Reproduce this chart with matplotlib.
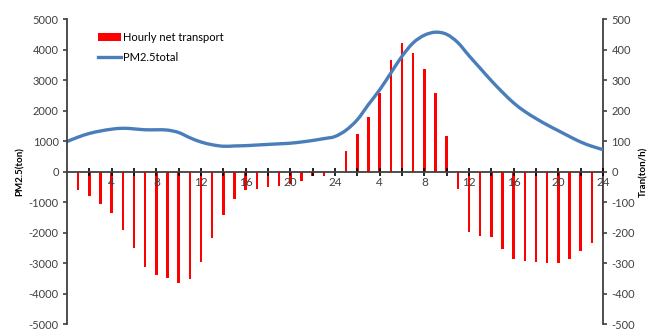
import numpy as np
import matplotlib.pyplot as plt
from matplotlib.ticker import FixedLocator
from matplotlib.path import Path
from matplotlib.patches import PathPatch
from matplotlib.lines import Line2D

# Часы (две сутки подряд)
hours_line = list(range(0, 49))
hours_bar = list(range(1, 49))

# PM2.5 total, ton (левая ось)
pm25_total = [985, 1130, 1250, 1330, 1390, 1420, 1400, 1370, 1370, 1360,
              1280, 1110, 970, 880, 830, 840, 850, 870, 890, 910,
              930, 970, 1020, 1080, 1150, 1360, 1700, 2200, 2680, 3230,
              3780, 4220, 4470, 4570, 4500, 4230, 3800, 3390, 2980, 2600,
              2250, 1970, 1740, 1530, 1340, 1150, 970, 830, 720]

# Hourly net transport, ton/h (правая ось)
net_transport = [-60, -80, -106, -137, -191, -252, -314, -340, -349, -366,
                 -353, -295, -217, -142, -91, -60, -58, -52, -47, -40,
                 -32, -16, -15, -3,
                 68, 124, 178, 257, 367, 423, 388, 336, 257, 118,
                 -58, -197, -211, -216, -255, -288, -292, -295, -301, -301,
                 -286, -259, -233, -211]

xtick_pos = list(range(4, 49, 4))
xtick_labels = ['4', '8', '12', '16', '20', '24', '4', '8', '12', '16', '20', '24']

plt.rcParams['font.family'] = ['Lato', 'DejaVu Sans']
plt.rcParams['axes.unicode_minus'] = False
axis_col = '#404040'
line_col = '#4A7EBB'


# Сглаженная линия как в Excel (кривые Безье через точки данных)
def smooth_path(x, y):
    x = np.asarray(x, float)
    y = np.asarray(y, float)
    n = len(x)
    verts = [(x[0], y[0])]
    codes = [Path.MOVETO]
    for i in range(n - 1):
        i0 = max(i - 1, 0)
        i3 = min(i + 2, n - 1)
        c1 = (x[i] + (x[i + 1] - x[i0]) / 6, y[i] + (y[i + 1] - y[i0]) / 6)
        c2 = (x[i + 1] - (x[i3] - x[i]) / 6, y[i + 1] - (y[i3] - y[i]) / 6)
        verts += [c1, c2, (x[i + 1], y[i + 1])]
        codes += [Path.CURVE4] * 3
    return Path(verts, codes)


fig = plt.figure(figsize=(6.53, 3.30), dpi=100)
ax1 = fig.add_axes([0.1026, 0.018, 0.8208, 0.9242])
ax2 = ax1.twinx()

# столбики на правой оси
bars = ax2.bar(hours_bar, net_transport, width=0.22, color='#FF0000')
ax2.set_ylim(-500, 500)
ax2.set_yticks(range(-500, 501, 100))

# линия на левой оси поверх столбиков
ax1.set_zorder(ax2.get_zorder() + 1)
ax1.patch.set_visible(False)
ax1.add_patch(PathPatch(smooth_path(hours_line, pm25_total), facecolor='none',
                        edgecolor=line_col, linewidth=2.4, capstyle='round'))
line = Line2D([], [], color=line_col, linewidth=2.4)
ax1.set_ylim(-5000, 5000)
ax1.set_yticks(range(-5000, 5001, 1000))
ax1.set_xlim(0, 48)

ax1.spines['bottom'].set_position(('data', 0))
for ax in (ax1, ax2):
    ax.spines['top'].set_visible(False)
    for s in ax.spines.values():
        s.set_color(axis_col)
        s.set_linewidth(1.3)
ax1.spines['right'].set_visible(False)
ax2.spines['left'].set_visible(False)
ax2.spines['bottom'].set_visible(False)

ax1.xaxis.set_major_locator(FixedLocator(xtick_pos))
ax1.set_xticklabels(xtick_labels)
ax1.xaxis.set_minor_locator(FixedLocator(list(range(2, 49, 4))))
ax1.tick_params(axis='x', which='both', direction='inout', length=6,
                width=1.2, color='black', labelsize=8.5, labelcolor=axis_col, pad=1)
ax1.tick_params(axis='y', direction='out', length=3, width=1.2,
                color=axis_col, labelsize=8, labelcolor=axis_col, pad=3)
ax2.tick_params(axis='y', direction='out', length=3, width=1.2,
                color=axis_col, labelsize=8, labelcolor=axis_col, pad=3)

ax1.set_ylabel('PM2.5(ton)', fontsize=7, fontweight='bold', labelpad=3)
ax2.set_ylabel('Tran(ton/h)', fontsize=7, fontweight='bold', labelpad=3)

ax1.legend([bars, line], ['Hourly net transport', 'PM2.5total'],
           loc='upper left', bbox_to_anchor=(0.04, 0.99), frameon=False,
           fontsize=8, handlelength=2.0, handletextpad=0.2, labelspacing=0.8)

fig.savefig('out.png', dpi=100)
